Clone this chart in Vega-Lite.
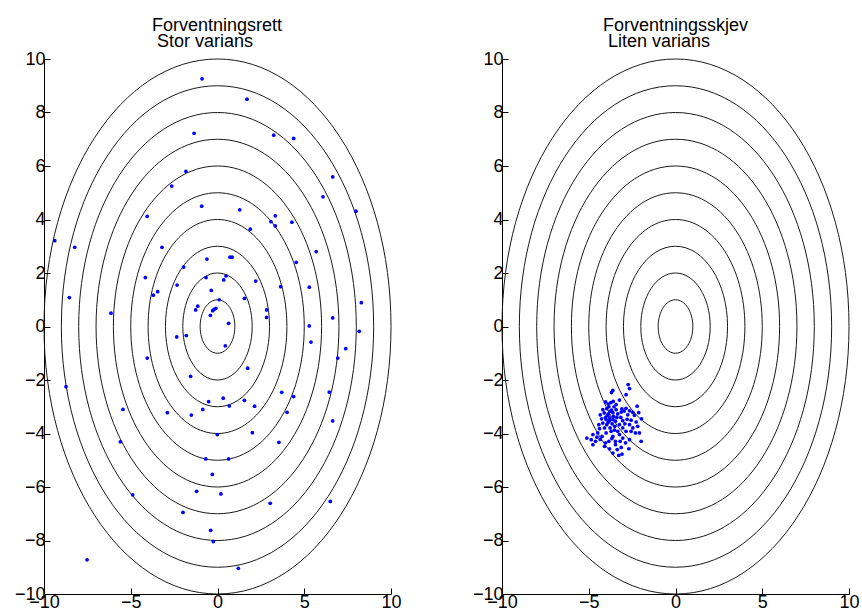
{
  "$schema": "https://vega.github.io/schema/vega-lite/v6.json",
  "background": "white",
  "padding": {"left": 14, "top": 16, "right": 5, "bottom": 0},
  "bounds": "flush",
  "spacing": 111,
  "config": {
    "view": {"stroke": null},
    "font": "Liberation Sans",
    "axis": {
      "grid": false,
      "title": null,
      "domainColor": "black",
      "domainWidth": 1,
      "tickColor": "black",
      "tickWidth": 1,
      "tickSize": -6,
      "labelColor": "black",
      "labelFont": "Liberation Sans",
      "labelFontSize": 18,
      "labelPadding": 5,
      "labelFlush": false,
      "labelOverlap": false
    },
    "title": {"font": "Liberation Sans", "fontSize": 18, "fontWeight": "normal", "color": "black", "anchor": "start", "frame": "group", "align": "left", "lineHeight": 16.5, "offset": -1}
  },
  "datasets": {
    "rings": [
      {"r": 1, "cx": 0, "cy": 0}, {"r": 2, "cx": 0, "cy": 0}, {"r": 3, "cx": 0, "cy": 0},
      {"r": 4, "cx": 0, "cy": 0}, {"r": 5, "cx": 0, "cy": 0}, {"r": 6, "cx": 0, "cy": 0},
      {"r": 7, "cx": 0, "cy": 0}, {"r": 8, "cx": 0, "cy": 0}, {"r": 9, "cx": 0, "cy": 0},
      {"r": 10, "cx": 0, "cy": 0}
    ],
    "unbiased": [
      {"x": -0.89, "y": 9.26}, {"x": -1.35, "y": 7.22}, {"x": -1.82, "y": 5.8}, {"x": -2.64, "y": 5.25},
      {"x": -0.91, "y": 4.5}, {"x": 1.28, "y": 4.36}, {"x": -4.05, "y": 4.12}, {"x": -9.38, "y": 3.21},
      {"x": -8.23, "y": 2.96}, {"x": -3.2, "y": 2.96}, {"x": -0.61, "y": 2.52}, {"x": 0.72, "y": 2.59},
      {"x": 0.84, "y": 2.59}, {"x": -1.95, "y": 2.22}, {"x": -4.16, "y": 1.83}, {"x": -0.66, "y": 1.83},
      {"x": 0.49, "y": 1.89}, {"x": 0.36, "y": 1.74}, {"x": 1.7, "y": 8.5}, {"x": 3.24, "y": 7.15},
      {"x": 4.39, "y": 7.03}, {"x": 6.64, "y": 5.59}, {"x": 6.08, "y": 4.85}, {"x": 7.98, "y": 4.31},
      {"x": 3.33, "y": 4.14}, {"x": 3.08, "y": 3.92}, {"x": 3.33, "y": 3.76}, {"x": 4.29, "y": 3.9},
      {"x": 1.89, "y": 3.64}, {"x": 5.69, "y": 2.8}, {"x": 4.54, "y": 2.4}, {"x": 2.2, "y": 1.7},
      {"x": 3.64, "y": 1.49}, {"x": -2.33, "y": 1.55}, {"x": -3.45, "y": 1.3}, {"x": -3.7, "y": 1.17},
      {"x": -0.36, "y": 1.35}, {"x": 1.55, "y": 1.05}, {"x": 0.1, "y": 1.0}, {"x": -1.14, "y": 0.76},
      {"x": -1.26, "y": 0.62}, {"x": -0.09, "y": 0.68}, {"x": -0.2, "y": 0.64}, {"x": -0.28, "y": 0.59},
      {"x": -0.41, "y": 0.42}, {"x": 2.83, "y": 0.62}, {"x": 2.83, "y": 0.34}, {"x": 0.64, "y": 0.12},
      {"x": -2.35, "y": -0.39}, {"x": -1.8, "y": -0.34}, {"x": 0.45, "y": -0.72}, {"x": -4.05, "y": -1.18},
      {"x": 1.74, "y": -1.56}, {"x": -1.55, "y": -1.86}, {"x": 3.7, "y": -2.46}, {"x": 4.39, "y": -2.62},
      {"x": 0.33, "y": -2.68}, {"x": -0.51, "y": -2.81}, {"x": 1.55, "y": -2.76}, {"x": 0.68, "y": -2.97},
      {"x": 2.14, "y": -2.98}, {"x": -0.85, "y": -3.1}, {"x": -2.89, "y": -3.22}, {"x": -1.51, "y": -3.31},
      {"x": 4.01, "y": -3.21}, {"x": -8.54, "y": 1.08}, {"x": -6.14, "y": 0.5}, {"x": -8.73, "y": -2.25},
      {"x": -5.45, "y": -3.1}, {"x": -0.01, "y": -4.04}, {"x": -5.6, "y": -4.31}, {"x": -0.68, "y": -4.95},
      {"x": 0.64, "y": -4.95}, {"x": 5.29, "y": 1.47}, {"x": 8.29, "y": 0.89}, {"x": 6.64, "y": 0.32},
      {"x": 5.29, "y": 0.02}, {"x": 8.17, "y": -0.18}, {"x": 5.39, "y": -0.58}, {"x": 7.39, "y": -0.83},
      {"x": 6.93, "y": -1.18}, {"x": 6.44, "y": -2.45}, {"x": 6.64, "y": -3.53}, {"x": 2.01, "y": -3.97},
      {"x": 3.54, "y": -4.33}, {"x": -0.3, "y": -5.53}, {"x": -4.89, "y": -6.29}, {"x": -1.2, "y": -6.16},
      {"x": 0.2, "y": -6.26}, {"x": 3.04, "y": -6.61}, {"x": 6.5, "y": -6.54}, {"x": -1.99, "y": -6.95},
      {"x": -0.39, "y": -7.62}, {"x": -0.24, "y": -8.04}, {"x": -7.52, "y": -8.72}, {"x": 1.2, "y": -9.04}
    ],
    "biased": [
      {"x": -2.73, "y": -2.17}, {"x": -3.61, "y": -2.39}, {"x": -2.65, "y": -2.32}, {"x": -3.69, "y": -2.47},
      {"x": -2.85, "y": -2.55}, {"x": -4.03, "y": -2.82}, {"x": -3.88, "y": -2.9}, {"x": -3.73, "y": -2.85},
      {"x": -3.59, "y": -2.8}, {"x": -3.23, "y": -2.75}, {"x": -3.84, "y": -3.0}, {"x": -3.54, "y": -3.0},
      {"x": -2.21, "y": -2.98}, {"x": -3.09, "y": -3.08}, {"x": -2.85, "y": -3.06}, {"x": -2.65, "y": -3.15},
      {"x": -4.19, "y": -3.11}, {"x": -3.96, "y": -3.07}, {"x": -3.69, "y": -3.13}, {"x": -3.42, "y": -3.11},
      {"x": -4.34, "y": -3.3}, {"x": -4.11, "y": -3.23}, {"x": -3.88, "y": -3.27}, {"x": -3.61, "y": -3.22},
      {"x": -3.13, "y": -3.2}, {"x": -2.96, "y": -3.16}, {"x": -2.46, "y": -3.21}, {"x": -2.12, "y": -3.22},
      {"x": -2.37, "y": -3.32}, {"x": -4.26, "y": -3.45}, {"x": -4.03, "y": -3.4}, {"x": -3.8, "y": -3.42},
      {"x": -3.61, "y": -3.48}, {"x": -3.38, "y": -3.4}, {"x": -3.04, "y": -3.52}, {"x": -2.79, "y": -3.47},
      {"x": -1.96, "y": -3.45}, {"x": -2.56, "y": -3.5}, {"x": -4.19, "y": -3.61}, {"x": -3.88, "y": -3.58},
      {"x": -3.65, "y": -3.64}, {"x": -3.46, "y": -3.54}, {"x": -3.23, "y": -3.67}, {"x": -2.65, "y": -3.67},
      {"x": -2.27, "y": -3.57}, {"x": -4.38, "y": -3.82}, {"x": -4.09, "y": -3.79}, {"x": -3.77, "y": -3.79},
      {"x": -3.52, "y": -3.87}, {"x": -3.04, "y": -3.79}, {"x": -2.85, "y": -3.92}, {"x": -2.56, "y": -3.92},
      {"x": -2.31, "y": -3.98}, {"x": -4.76, "y": -4.04}, {"x": -4.48, "y": -3.98}, {"x": -4.0, "y": -3.98},
      {"x": -3.61, "y": -4.11}, {"x": -3.23, "y": -4.04}, {"x": -3.04, "y": -4.17}, {"x": -2.65, "y": -4.23},
      {"x": -2.08, "y": -3.98}, {"x": -4.86, "y": -4.23}, {"x": -4.61, "y": -4.29}, {"x": -4.34, "y": -4.22},
      {"x": -3.67, "y": -4.19}, {"x": -3.46, "y": -4.29}, {"x": -3.19, "y": -4.29}, {"x": -1.98, "y": -4.29},
      {"x": -4.76, "y": -4.42}, {"x": -4.09, "y": -4.48}, {"x": -3.8, "y": -4.57}, {"x": -3.46, "y": -4.42},
      {"x": -3.13, "y": -4.52}, {"x": -2.69, "y": -4.57}, {"x": -3.61, "y": -4.73}, {"x": -3.27, "y": -4.82},
      {"x": -3.08, "y": -4.77}, {"x": -3.92, "y": -3.32}, {"x": -3.77, "y": -3.17}, {"x": -3.33, "y": -3.27},
      {"x": -3.5, "y": -3.73}, {"x": -3.96, "y": -3.67}, {"x": -3.33, "y": -3.92}, {"x": -4.23, "y": -4.11},
      {"x": -3.84, "y": -4.29}, {"x": -2.46, "y": -3.79}, {"x": -3.71, "y": -3.92}, {"x": -3.42, "y": -2.92},
      {"x": -3.15, "y": -3.4}, {"x": -2.92, "y": -3.64}, {"x": -4.42, "y": -3.67}, {"x": -2.75, "y": -3.3},
      {"x": -4.03, "y": -4.35}, {"x": -2.88, "y": -4.35}, {"x": -2.18, "y": -3.73}, {"x": -3.36, "y": -4.6},
      {"x": -4.53, "y": -4.14}, {"x": -3.8, "y": -3.52}, {"x": -3.57, "y": -3.36}, {"x": -4.0, "y": -3.48},
      {"x": -5.11, "y": -4.17}
    ]
  },
  "hconcat": [
    {
      "width": 347,
      "height": 535,
      "title": {"text": ["Forventningsrett", "\u200b\u00a0Stor varians"], "dx": 108},
      "layer": [
        {
          "data": {"name": "rings"},
          "mark": {"type": "point", "shape": "M0.6486,0C0.6486,0.5523,0.3582,1,0,1C-0.3582,1,-0.6486,0.5523,-0.6486,0C-0.6486,-0.5523,-0.3582,-1,0,-1C0.3582,-1,0.6486,-0.5523,0.6486,0Z", "filled": false, "stroke": "#1a1a1a", "strokeWidth": 1, "opacity": 1},
          "encoding": {
            "x": {"field": "cx", "type": "quantitative", "scale": {"domain": [-10, 10], "nice": false, "zero": false}, "axis": {"values": [-10, -5, 0, 5, 10]}},
            "y": {"field": "cy", "type": "quantitative", "scale": {"domain": [-10, 10], "nice": false, "zero": false}, "axis": {"values": [-10, -8, -6, -4, -2, 0, 2, 4, 6, 8, 10]}},
            "size": {"field": "r", "type": "quantitative", "scale": {"type": "pow", "exponent": 2, "domain": [0, 10], "range": [0, 286225]}, "legend": null}
          }
        },
        {
          "data": {"name": "unbiased"},
          "mark": {"type": "point", "shape": "circle", "filled": true, "size": 14, "color": "#0000ff", "opacity": 1},
          "encoding": {
            "x": {"field": "x", "type": "quantitative"},
            "y": {"field": "y", "type": "quantitative"}
          }
        }
      ]
    },
    {
      "width": 347,
      "height": 535,
      "title": {"text": ["Forventningsskjev", "\u200b\u00a0Liten varians"], "dx": 101},
      "layer": [
        {
          "data": {"name": "rings"},
          "mark": {"type": "point", "shape": "M0.6486,0C0.6486,0.5523,0.3582,1,0,1C-0.3582,1,-0.6486,0.5523,-0.6486,0C-0.6486,-0.5523,-0.3582,-1,0,-1C0.3582,-1,0.6486,-0.5523,0.6486,0Z", "filled": false, "stroke": "#1a1a1a", "strokeWidth": 1, "opacity": 1},
          "encoding": {
            "x": {"field": "cx", "type": "quantitative", "scale": {"domain": [-10, 10], "nice": false, "zero": false}, "axis": {"values": [-10, -5, 0, 5, 10]}},
            "y": {"field": "cy", "type": "quantitative", "scale": {"domain": [-10, 10], "nice": false, "zero": false}, "axis": {"values": [-10, -8, -6, -4, -2, 0, 2, 4, 6, 8, 10]}},
            "size": {"field": "r", "type": "quantitative", "scale": {"type": "pow", "exponent": 2, "domain": [0, 10], "range": [0, 286225]}, "legend": null}
          }
        },
        {
          "data": {"name": "biased"},
          "mark": {"type": "point", "shape": "circle", "filled": true, "size": 14, "color": "#0000ff", "opacity": 1},
          "encoding": {
            "x": {"field": "x", "type": "quantitative"},
            "y": {"field": "y", "type": "quantitative"}
          }
        }
      ]
    }
  ]
}
